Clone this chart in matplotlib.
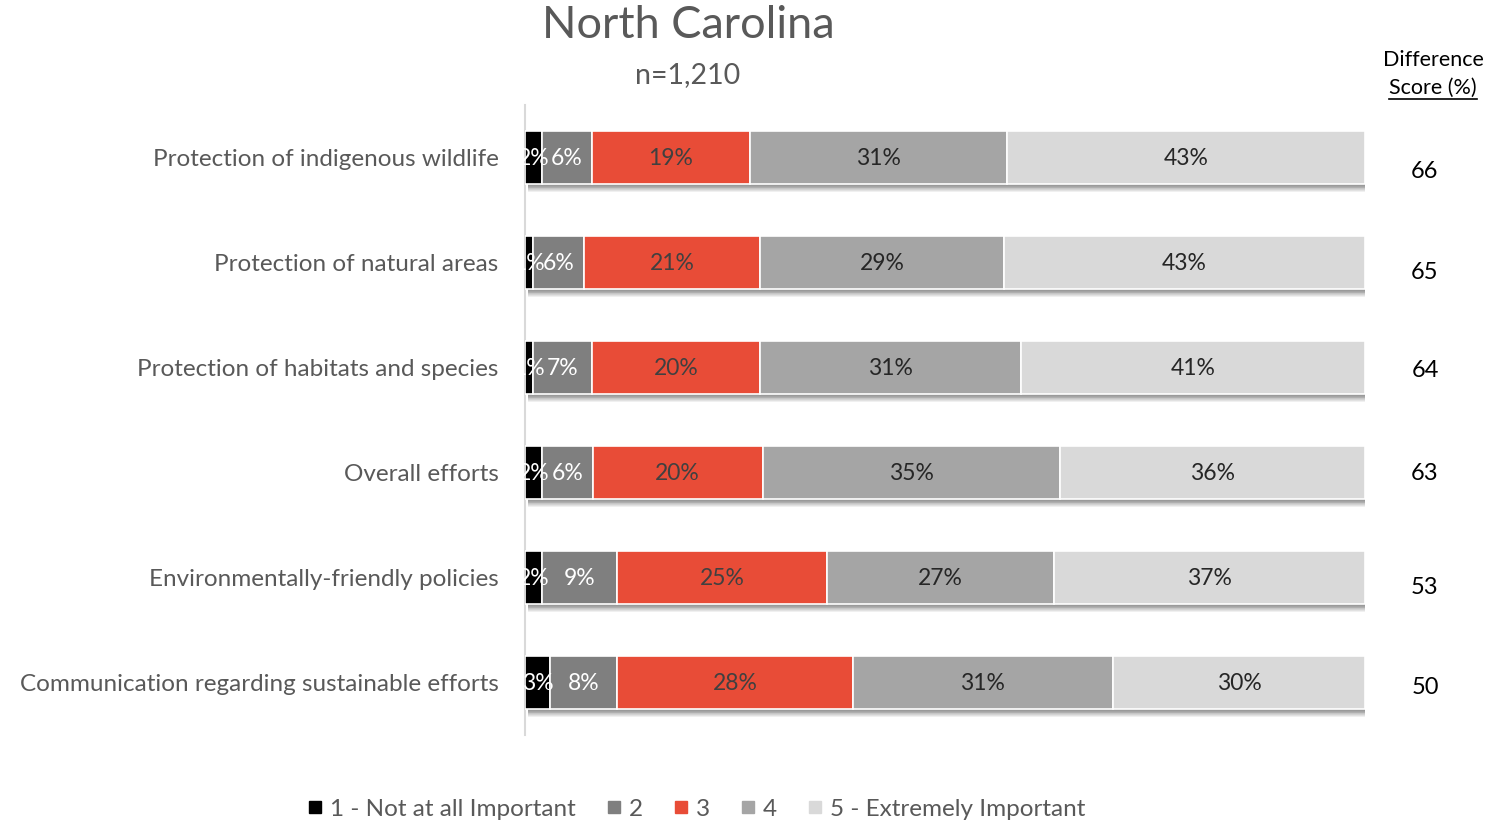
import matplotlib
matplotlib.use("Agg")
import matplotlib.pyplot as plt
import numpy as np
from matplotlib.lines import Line2D

plt.rcParams['font.family'] = ['Lato', 'DejaVu Sans']

categories = [
    "Protection of indigenous wildlife",
    "Protection of natural areas",
    "Protection of habitats and species",
    "Overall efforts",
    "Environmentally-friendly policies",
    "Communication regarding sustainable efforts",
]
series_names = ["1 - Not at all Important", "2", "3", "4", "5 - Extremely Important"]
s1 = [2, 1, 1, 2, 2, 3]
s2 = [6, 6, 7, 6, 9, 8]
s3 = [19, 21, 20, 20, 25, 28]
s4 = [31, 29, 31, 35, 27, 31]
s5 = [43, 43, 41, 36, 37, 30]
diff_scores = [66, 65, 64, 63, 53, 50]

colors = ["#000000", "#7f7f7f", "#e84c37", "#a5a5a5", "#d9d9d9"]
label_colors = ["white", "white", "#404040", "#262626", "#262626"]
diff_offsets = [0.13, 0.095, 0.03, 0.01, 0.095, 0.05]

W, H = 1499, 821
fig = plt.figure(figsize=(W / 100, H / 100), dpi=100)
ax = fig.add_axes([525 / W, 1 - 735 / H, 840 / W, 630 / H])

data = np.array([s1, s2, s3, s4, s5], dtype=float)
totals = data.sum(axis=0)
frac = data / totals * 100
y = np.arange(len(categories))
bh = 0.5

# soft shadow below each bar
for k in range(1, 10):
    ax.barh(y + k * 0.009, np.full(len(y), 100.3), left=0.4, height=bh,
            color="black", alpha=0.06, zorder=1, linewidth=0)

left = np.zeros(len(categories))
for j in range(5):
    ax.barh(y, frac[j], left=left, height=bh, color=colors[j],
            edgecolor="white", linewidth=1.2, zorder=3, label=series_names[j])
    for i in range(len(categories)):
        ax.text(left[i] + frac[j][i] / 2, y[i] + 0.01, f"{int(data[j][i])}%",
                ha="center", va="center", color=label_colors[j],
                fontsize=16.5, zorder=4)
    left += frac[j]

ax.set_xlim(0, 100)
ax.set_ylim(len(categories) - 0.5, -0.5)
ax.set_yticks(y)
ax.set_yticklabels(categories, fontsize=17.5, color="#595959")
ax.tick_params(axis="y", length=0, pad=19)
ax.set_xticks([])
for s in ["top", "right", "bottom"]:
    ax.spines[s].set_visible(False)
ax.spines["left"].set_color("#d9d9d9")
ax.spines["left"].set_linewidth(1.5)

for i, v in enumerate(diff_scores):
    ax.text((1425 - 525) / 840, y[i] + diff_offsets[i], str(v),
            transform=ax.get_yaxis_transform(), ha="center", va="center",
            fontsize=17, color="black")

fig.text(688 / W, 1 - 25 / H, "North Carolina", ha="center", va="center",
         fontsize=32.5, color="#595959")
fig.text(688 / W, 1 - 75 / H, "n=1,210", ha="center", va="center",
         fontsize=20.5, color="#595959")

fig.text(1433 / W, 1 - 60 / H, "Difference", ha="center", va="center",
         fontsize=15.5, color="black")
t2 = fig.text(1433 / W, 1 - 88 / H, "Score (%)", ha="center", va="center",
              fontsize=15.5, color="black")
fig.canvas.draw()
bb = t2.get_window_extent()
uy = (bb.y0 - 1) / H
fig.add_artist(Line2D([bb.x0 / W, bb.x1 / W], [uy, uy], color="black",
                      linewidth=1.2, transform=fig.transFigure))

handles = [Line2D([], [], marker="s", linestyle="none", markersize=9,
                  markerfacecolor=c, markeredgecolor=c) for c in colors]
fig.legend(handles, series_names, loc="center", ncol=5,
           bbox_to_anchor=(694 / W, 1 - 809 / H), frameon=False,
           fontsize=17.5, labelcolor="#595959", handletextpad=0.1,
           columnspacing=1.08, handlelength=1.0)

fig.savefig("out.png", dpi=100)
